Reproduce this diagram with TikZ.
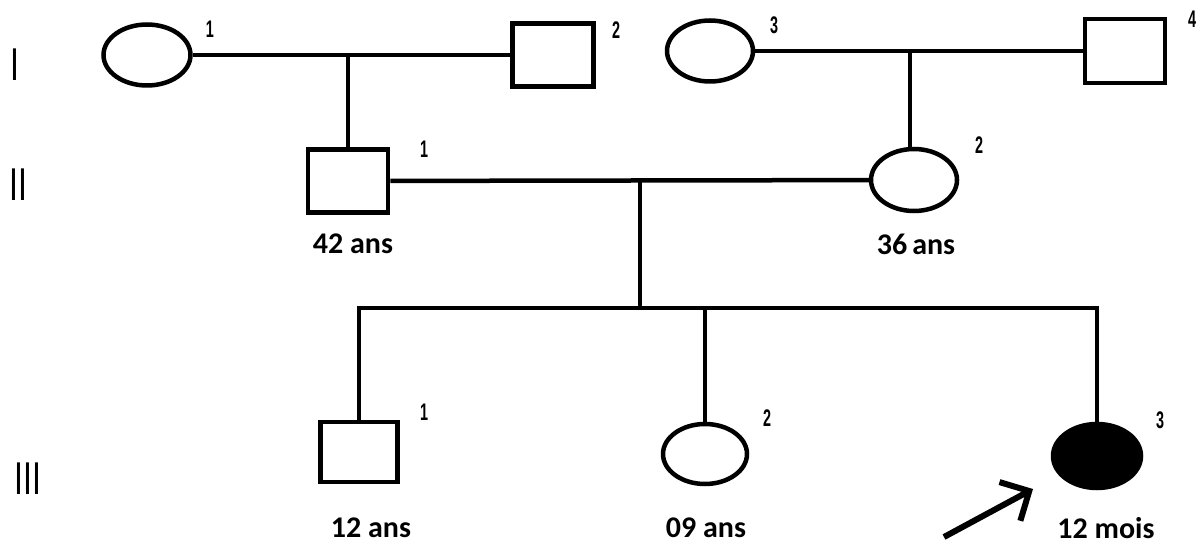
\documentclass[tikz,border=0pt]{standalone}
\usepackage{fontspec}
\setmainfont{Carlito}
\newfontfamily\romfont{Liberation Sans}
\newfontfamily\numfont{Liberation Sans}
\usetikzlibrary{shapes.geometric,arrows.meta}
\tikzset{
  person/.style={draw, line width=4.5pt, inner sep=0pt, minimum width=84pt, minimum height=64pt},
  female/.style={person, ellipse, minimum width=87pt, minimum height=61pt},
  male/.style={person, rectangle},
  affected/.style={fill=black},
  link/.style={line width=4.5pt},
  numlab/.style={font=\numfont\bfseries\fontsize{24}{24}\selectfont, inner sep=0pt},
  agelab/.style={font=\bfseries\fontsize{30}{30}\selectfont, inner sep=0pt},
  genlab/.style={font=\romfont\fontsize{46}{46}\selectfont, inner sep=0pt},
  probarrow/.style={line width=6pt, -{Straight Barb[length=22pt,width=44pt]}}
}
\newcommand{\nlab}[1]{\scalebox{0.6}[1]{#1}}
\newcommand{\glab}[1]{\scalebox{0.7}[1]{#1}}
\begin{document}
\begin{tikzpicture}[x=1pt,y=-1pt]
\useasboundingbox (0,0) rectangle (1204,548);
% generation labels
\node[genlab] (gI) at (15,65) {\glab{I}};
\node[genlab] (gII) at (18,185) {\glab{II}};
\node[genlab] (gIII) at (28,479) {\glab{III}};
% generation I
\node[female] (I1) at (147,55) {};
\node[male, minimum width=81pt, minimum height=63pt] (I2) at (553,55) {};
\node[female, minimum width=86pt] (I3) at (710,51) {};
\node[male, minimum width=80pt, minimum height=64pt] (I4) at (1125,51) {};
\node[numlab] (n11) at (210,29) {\nlab{1}};
\node[numlab] (n12) at (616,30) {\nlab{2}};
\node[numlab] (n13) at (774,25) {\nlab{3}};
\node[numlab] (n14) at (1192,19) {\nlab{4}};
% generation II
\node[male, minimum width=80pt, minimum height=63pt] (II1) at (348,181) {};
\node[female, minimum width=86pt, minimum height=62pt] (II2) at (914,180) {};
\node[numlab] (n21) at (424,149) {\nlab{1}};
\node[numlab] (n22) at (979,145) {\nlab{2}};
\node[agelab] (a21) at (353,244) {42 ans};
\node[agelab] (a22) at (916,244) {36\,ans};
% generation III
\node[male, minimum width=77pt, minimum height=60pt] (III1) at (359,452) {};
\node[female, minimum width=84pt, minimum height=60pt] (III2) at (705,454) {};
\node[female, affected, minimum width=88pt, minimum height=64pt] (III3) at (1097,456) {};
\node[numlab] (n31) at (424,412) {\nlab{1}};
\node[numlab] (n32) at (767,418) {\nlab{2}};
\node[numlab] (n33) at (1160,420) {\nlab{3}};
\node[agelab] (a31) at (371,528) {12 ans};
\node[agelab] (a32) at (706,528) {09 ans};
\node[agelab] (a33) at (1106,528) {12 mois};
% connectors
\draw[link] (I1) -- (I2);
\draw[link] (II1.north) -- (II1.north |- I1);
\draw[link] (I3) -- (I4);
\coordinate (d2) at (910,51);
\draw[link] (d2) -- (d2 |- II2.north);
\draw[link] (II1) -- (II2);
\coordinate (m2) at (640,181);
\coordinate (sib) at (640,308);
\draw[link] (m2) -- (sib);
\draw[link, line cap=rect] (III1.north |- sib) -- (III3.north |- sib);
\draw[link] (III1.north |- sib) -- (III1.north);
\draw[link] (III2.north |- sib) -- (III2.north);
\draw[link] (III3.north |- sib) -- (III3.north);
% proband arrow
\coordinate (atail) at (944,537);
\coordinate (ahead) at (1033,489);
\draw[probarrow] (atail) -- (ahead);
\end{tikzpicture}
\end{document}
